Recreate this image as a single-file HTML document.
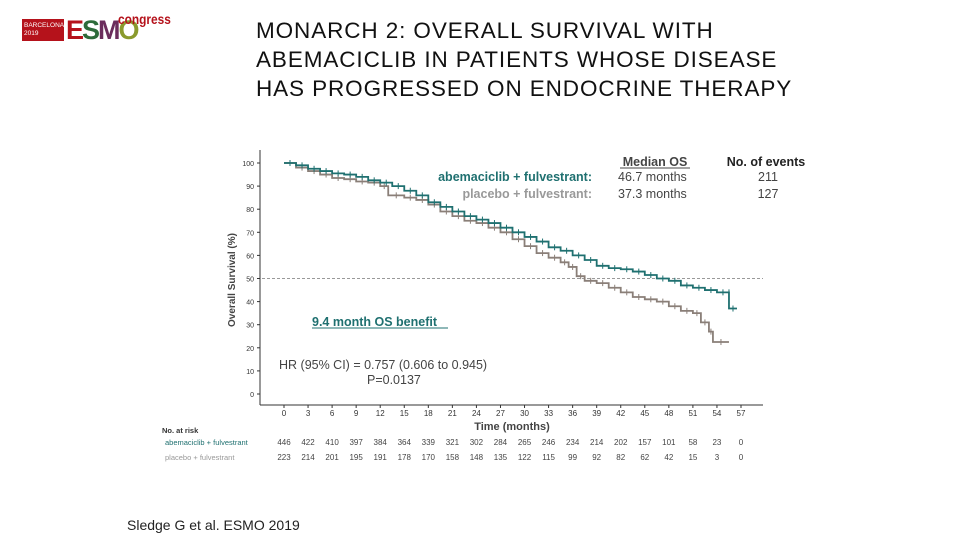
<!DOCTYPE html>
<html><head><meta charset="utf-8"><style>
body{margin:0;width:960px;height:540px;background:#fff;overflow:hidden;font-family:"Liberation Sans",sans-serif;position:relative}
.t{position:absolute}
</style></head><body>
<div class="t" style="left:22px;top:15px;width:160px;height:30px">
 <div style="position:absolute;left:0;top:4px;width:42px;height:22px;background:#b5121b;color:#fff;font-size:6.5px;line-height:8px;padding:3px 0 0 2px;box-sizing:border-box;overflow:hidden">BARCELONA<br>2019</div>
 <div style="position:absolute;left:44px;top:0;font-size:27px;font-weight:bold;letter-spacing:-2px;line-height:30px"><span style="color:#b5121b">E</span><span style="color:#2d6b3a">S</span><span style="color:#6b2d5c">M</span><span style="color:#8a9a2d">O</span></div>
 <div style="position:absolute;left:96px;top:-4px;font-size:14px;color:#b5121b;font-weight:bold;transform:scaleX(.85);transform-origin:left">congress</div>
</div>
<div class="t" style="left:256px;top:16px;font-size:22.5px;letter-spacing:0.9px;line-height:29px;color:#111">MONARCH 2: OVERALL SURVIVAL WITH<br>ABEMACICLIB IN PATIENTS WHOSE DISEASE<br>HAS PROGRESSED ON ENDOCRINE THERAPY</div>
<div class="t" style="left:127px;top:517px;font-size:14px;color:#222">Sledge G et al. ESMO 2019</div>
<svg id="c" width="960" height="540" style="position:absolute;left:0;top:0"></svg>
<script>
const ticksX=[0,3,6,9,12,15,18,21,24,27,30,33,36,39,42,45,48,51,54,57];
const ticksY=[0,10,20,30,40,50,60,70,80,90,100];
const abemaT=[0,1.5,3,4.5,6,7.5,9,10.5,12,13.5,15,16.5,18,19.5,21,22.5,24,25.5,27,28.5,30,31.5,33,34.5,36,37.5,39,40.5,42,43.5,45,46.5,48,49.5,51,52.5,54,55.5,55.5,56.5];
const abemaS=[100,99,97.5,96.5,95.5,95,94,92.5,91.5,90,88,86,83,81,79,77,75.5,74,72,70,68,66,63.5,62,60,58,55.5,54.5,54,53,51.5,50,49,47,46,45,44,44,37,37];
const placT=[0,1.5,3,4.5,6,7.5,9,10.5,12,13,15,16.5,18,19.5,21,22.5,24,25.5,27,28.5,30,31.5,33,34.5,35.5,36.5,37.5,39,40.5,42,43.5,45,46.5,48,49.5,51,52,53,53.5,55.5];
const placS=[100,98,96.5,95,93.5,93,92,91.5,90,86,85,84,82,79,77,75,74,72,70,67,64,61,59,57,55,51,49,48,46,44,42,41,40,38,36,35,31,27,22.5,22.5];
const riskA=[446,422,410,397,384,364,339,321,302,284,265,246,234,214,202,157,101,58,23,0];
const riskP=[223,214,201,195,191,178,170,158,148,135,122,115,99,92,82,62,42,15,3,0];
const X=t=>284+t*(741-284)/57, Y=s=>394-s*(394-163)/100;
const svg=document.getElementById('c'),NS='http://www.w3.org/2000/svg';
function mk(tag,at,txt){const e=document.createElementNS(NS,tag);for(const k in at)e.setAttribute(k,at[k]);if(txt!==undefined)e.textContent=txt;svg.appendChild(e);return e;}
let e;
e=mk('line',{x1:260,y1:150,x2:260,y2:405,stroke:'#333'});


e=mk('line',{x1:260,y1:405,x2:763,y2:405,stroke:'#333'});


ticksY.forEach(v=>{mk('line',{x1:257,y1:Y(v),x2:260,y2:Y(v),stroke:'#333'});
 e=mk('text',{x:254,y:Y(v)+3,'font-size':7,'text-anchor':'end',fill:'#333'},v);
 
 });
ticksX.forEach(v=>{mk('line',{x1:X(v),y1:405,x2:X(v),y2:408,stroke:'#333'});
 e=mk('text',{x:X(v),y:416,'font-size':8,'text-anchor':'middle',fill:'#333'},v);
 
 });
e=mk('line',{x1:262,y1:Y(50),x2:763,y2:Y(50),stroke:'#999','stroke-dasharray':'3,2'});


function step(T,S,col,name){let d='M'+X(T[0])+','+Y(S[0]);for(let i=1;i<T.length;i++){d+='H'+X(T[i])+'V'+Y(S[i]);}
 const p=mk('path',{d:d,fill:'none',stroke:col,'stroke-width':1.8});
 
 
 for(let i=0;i<T.length-1;i++){const xm=(X(T[i])+X(T[i+1]))/2;mk('line',{x1:xm,y1:Y(S[i])-3,x2:xm,y2:Y(S[i])+3,stroke:col,'stroke-width':1});}}
step(placT,placS,'#8a7f78','placebo-curve');
step(abemaT,abemaS,'#1f7070','abemaciclib-curve');
e=mk('text',{x:235,y:280,'font-size':10,'font-weight':'bold','text-anchor':'middle',fill:'#444',transform:'rotate(-90 235 280)'},'Overall Survival (%)');


e=mk('text',{x:512,y:430,'font-size':11,'font-weight':'bold','text-anchor':'middle',fill:'#444'},'Time (months)');


const L=[[592,181,'abemaciclib + fulvestrant:','#1f7070','bold','end'],[592,198,'placebo + fulvestrant:','#999','bold','end'],[655,166,'Median OS','#444','bold','middle'],[618,181,'46.7 months','#444','normal','start'],[618,198,'37.3 months','#444','normal','start'],[766,166,'No. of events','#222','bold','middle'],[768,181,'211','#444','normal','middle'],[768,198,'127','#444','normal','middle'],[312,326,'9.4 month OS benefit','#1f7070','bold','start'],[279,369,'HR (95% CI) =  0.757 (0.606 to 0.945)','#444','normal','start'],[367,384,'P=0.0137','#444','normal','start']];
L.forEach(l=>{e=mk('text',{x:l[0],y:l[1],'font-size':12.5,'font-weight':l[4],fill:l[3],'text-anchor':l[5]},l[2]);
 
 });
mk('line',{x1:620,y1:168,x2:690,y2:168,stroke:'#444'});
mk('line',{x1:312,y1:328,x2:448,y2:328,stroke:'#1f7070'});
e=mk('text',{x:162,y:433,'font-size':7.5,'font-weight':'bold',fill:'#333'},'No. at risk');


e=mk('text',{x:165,y:445,'font-size':7.5,fill:'#1f7070'},'abemaciclib + fulvestrant');


e=mk('text',{x:165,y:460,'font-size':7.5,fill:'#999'},'placebo + fulvestrant');


ticksX.forEach((t,i)=>{e=mk('text',{x:X(t),y:445,'font-size':8,'text-anchor':'middle',fill:'#444'},riskA[i]);
 
 
 e=mk('text',{x:X(t),y:460,'font-size':8,'text-anchor':'middle',fill:'#444'},riskP[i]);
 
 });
</script>
</body></html>
